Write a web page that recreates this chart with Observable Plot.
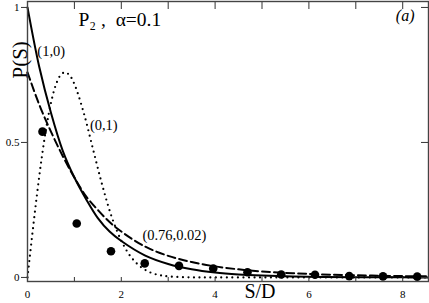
<!DOCTYPE html>
<html>
<head>
<meta charset="utf-8">
<script src="https://cdn.jsdelivr.net/npm/d3@7"></script>
<script src="https://cdn.jsdelivr.net/npm/@observablehq/plot@0.6"></script>
<style>
  html, body { margin: 0; padding: 0; background: white; }
  svg { display: block; }
</style>
</head>
<body>
<div id="chart"></div>
<script>
// ---- data ----
const curveX  = [0, 0.25, 0.5, 0.75, 1, 1.25, 1.5, 1.75, 2, 2.5, 3, 3.5, 4, 4.5, 5, 6, 7, 8, 8.55];
const solidY  = [1, 0.78, 0.61, 0.47, 0.37, 0.29, 0.22, 0.17, 0.135, 0.082, 0.05, 0.03, 0.018, 0.011, 0.007, 0.0025, 0.001, 0.0003, 0.0002];
const dashedY = [0.76, 0.64, 0.54, 0.45, 0.37, 0.30, 0.25, 0.205, 0.17, 0.115, 0.08, 0.057, 0.041, 0.03, 0.022, 0.013, 0.008, 0.005, 0.004];

const dottedX = [0, 0.1, 0.2, 0.3, 0.4, 0.5, 0.6, 0.7, 0.8, 0.9, 1.0, 1.2, 1.4, 1.6, 1.8, 2.0, 2.2, 2.4, 2.6, 2.8, 3.0, 3.5, 4, 5, 6, 7, 8, 8.55];
const dottedY = [0, 0.156, 0.304, 0.439, 0.554, 0.646, 0.711, 0.748, 0.76, 0.748, 0.716, 0.609, 0.473, 0.338, 0.222, 0.136, 0.077, 0.041, 0.02, 0.009, 0.004, 0.0003, 0, 0, 0, 0, 0, 0];

const pointsX = [0.32, 1.05, 1.78, 2.5, 3.23, 3.96, 4.69, 5.41, 6.13, 6.86, 7.58, 8.31];
const pointsY = [0.54, 0.20, 0.097, 0.052, 0.043, 0.033, 0.019, 0.011, 0.010, 0.005, 0.004, 0.003];

const xMajorTicks = [0, 2, 4, 6, 8];
const xAllTicks   = [0, 1, 2, 3, 4, 5, 6, 7, 8];
const yTicks      = [0, 0.5, 1];
const yTickLabels = ["0", "0.5", "1"];

const curveLabels = ["(1,0)", "(0,1)", "(0.76,0.02)"];
const curveLabelX = [0.21, 1.33, 2.45];
const curveLabelY = [0.82, 0.545, 0.137];

const titleText = "P\u2082 ,  \u03B1=0.1";
const panelText = "(a)";
const xTitle = "S/D";
const yTitle = "P(S)";

// ---- tables built from the arrays ----
const solid  = curveX.map((x, i) => ({x, y: solidY[i]}));
const dashed = curveX.map((x, i) => ({x, y: dashedY[i]}));
const dotted = dottedX.map((x, i) => ({x, y: dottedY[i]}));
const points = pointsX.map((x, i) => ({x, y: pointsY[i]}));
const labels = curveLabels.map((t, i) => ({t, x: curveLabelX[i], y: curveLabelY[i]}));

const serif = "Liberation Serif";

const chart = Plot.plot({
  width: 429,
  height: 303,
  marginLeft: 27,
  marginRight: 1,
  marginTop: 1,
  marginBottom: 22,
  style: {fontFamily: serif, fontSize: "11px", background: "white", color: "black"},
  x: {domain: [0, 8.55]},
  y: {domain: [-0.015, 1.022]},
  marks: [
    // curves
    Plot.line(dotted, {x: "x", y: "y", curve: "catmull-rom", stroke: "black", strokeWidth: 2.2,
      strokeDasharray: "0,5.5", strokeLinecap: "round"}),
    Plot.line(dashed, {x: "x", y: "y", curve: "catmull-rom", stroke: "black", strokeWidth: 2, strokeDasharray: "8,4"}),
    Plot.line(solid, {x: "x", y: "y", curve: "catmull-rom", stroke: "black", strokeWidth: 2}),
    Plot.dot(points, {x: "x", y: "y", r: 4.3, fill: "black"}),
    // curve labels
    Plot.text(labels, {x: "x", y: "y", text: "t", textAnchor: "start", lineAnchor: "bottom",
      fontSize: 14.5, fontFamily: serif, fill: "black"}),
    Plot.text([titleText], {frameAnchor: "top-left", dx: 51, dy: 11, textAnchor: "start", lineAnchor: "top",
      fontSize: 19.5, fontFamily: serif, fill: "black"}),
    Plot.text([panelText], {frameAnchor: "top-right", dx: -14, dy: 8, textAnchor: "end", lineAnchor: "top",
      fontSize: 16, fontStyle: "italic", fontFamily: serif, fill: "black"}),
    // axes: bottom
    Plot.axisX({anchor: "bottom", ticks: xAllTicks, tickSize: -4, tickFormat: () => "", stroke: "#333", label: null}),
    Plot.axisX({anchor: "bottom", ticks: xMajorTicks, tickSize: 0, tickPadding: 9, tickFormat: d => String(d),
      fontSize: 11, fontFamily: serif, label: null, fill: "black"}),
    // top ticks
    Plot.axisX({anchor: "top", ticks: xAllTicks, tickSize: -7, tickFormat: () => "", stroke: "#333", label: null}),
    // left
    Plot.axisY({anchor: "left", ticks: yTicks, tickSize: 6, tickPadding: 2, tickFormat: (d, i) => yTickLabels[i],
      fontSize: 11, fontFamily: serif, label: null, stroke: "#333", fill: "black"}),
    // right
    Plot.axisY({anchor: "right", ticks: yTicks, tickSize: -8, tickFormat: () => "", stroke: "#333", label: null}),
    Plot.frame({stroke: "#444", strokeWidth: 1.4}),
    // axis titles
    Plot.text([xTitle], {frameAnchor: "bottom", dx: 32, dy: 10, lineAnchor: "middle", fontSize: 20, fontFamily: serif, fill: "black"}),
    Plot.text([yTitle], {frameAnchor: "top-left", dx: -15, dy: 77, rotate: -90, fontSize: 21, fontFamily: serif, fill: "black"})
  ]
});
document.getElementById("chart").appendChild(chart);
</script>
</body>
</html>
